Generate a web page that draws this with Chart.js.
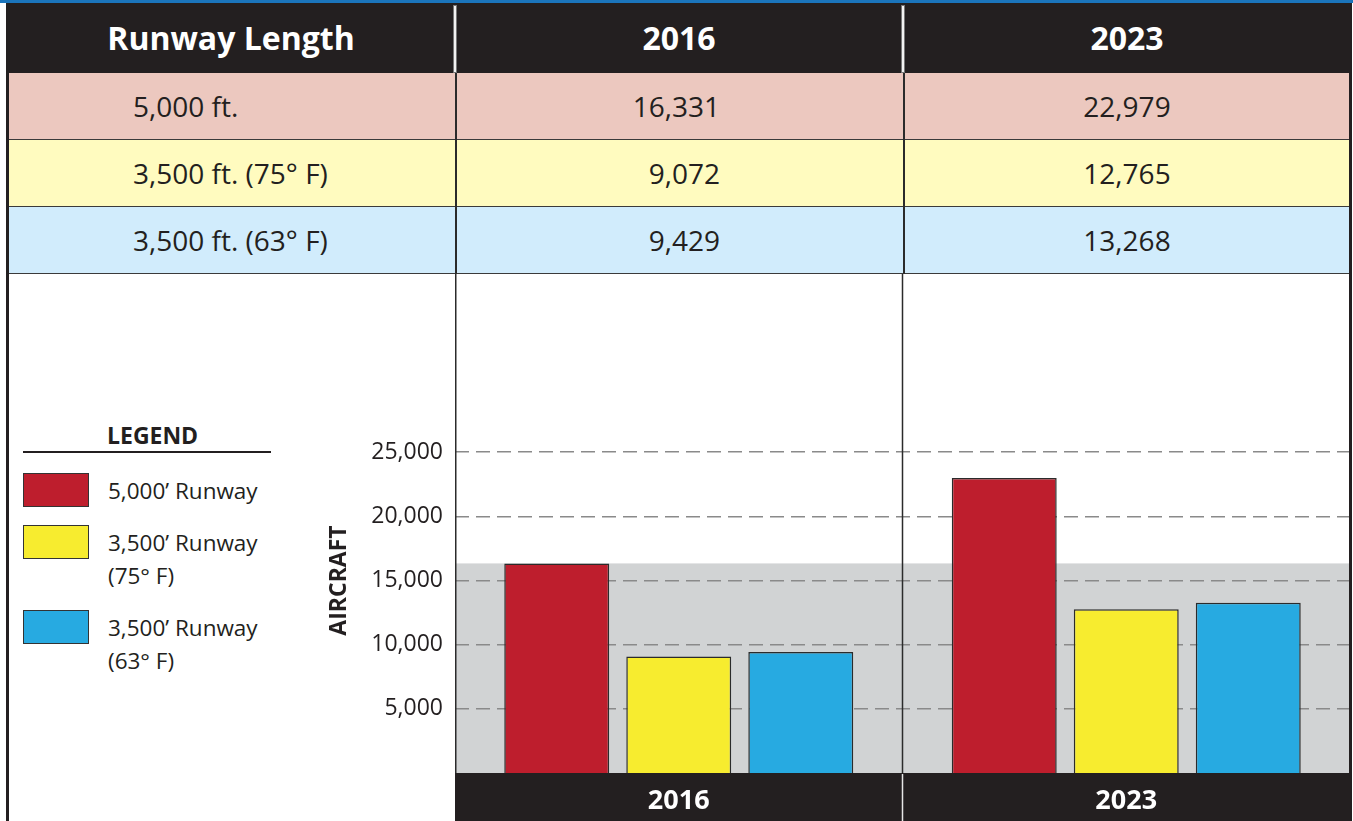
<!DOCTYPE html>
<html lang="en">
<head>
  <meta charset="UTF-8" />
  <title>Runway Length - Aircraft</title>
  <script src="https://cdn.jsdelivr.net/npm/chart.js"></script>
  <style>
    body {
      margin: 0;
      background: #ffffff;
      font-family: 'Open Sans', 'Noto Sans', Arial, sans-serif;
      color: #231f20;
    }
    .page {
      position: relative;
      width: 1353px;
      height: 821px;
      overflow: hidden;
    }
    .topline { position: absolute; left: 0; top: 0; width: 1353px; height: 3px; background: #1b75bc; }
    .header {
      position: absolute; left: 7px; top: 3px; width: 1345px; height: 70px;
      background: #231f20;
    }
    .hcell {
      position: absolute; top: 3px; height: 70px; line-height: 70px;
      color: #fff; font-weight: 700; font-size: 32px; text-align: center;
    }
    .hdiv {
      position: absolute; top: 6px; height: 66px; width: 2px;
      background: #f2f2f2; box-shadow: 0 0 0 1px #777;
    }
    .row { position: absolute; left: 7px; width: 1345px; height: 66px; border-bottom: 1.5px solid #3a3a3a; }
    .cell { position: absolute; height: 66px; line-height: 66px; font-size: 28px; color: #231f20; white-space: nowrap; }
    .vdiv { position: absolute; width: 1.5px; background: #2b2b2b; }
    .border { position: absolute; top: 3px; width: 3px; height: 818px; background: #231f20; z-index: 5; }
    #legend { position: absolute; left: 0; top: 0; }
    .legend-title {
      position: absolute; left: 107px; top: 420px;
      font-weight: 700; font-size: 23px; line-height: 30px; white-space: nowrap;
    }
    .legend-rule { position: absolute; left: 23px; top: 451px; width: 248px; height: 1.5px; background: #231f20; }
    .swatch { position: absolute; left: 23px; width: 64px; height: 32px; border: 1.5px solid #333; }
    .litem { position: absolute; left: 108px; font-size: 22.5px; line-height: 33px; white-space: nowrap; }
    .chart-box { position: absolute; left: 320px; top: 274px; width: 1030px; height: 547px; }
  </style>
</head>
<body>
<div class="page" id="page">
  <div class="topline"></div>
  <div class="header"></div>
  <div class="chart-box"><canvas id="chart"></canvas></div>
  <div id="legend"></div>
  <div class="border" style="left:6px"></div>
  <div class="border" style="left:1349px"></div>
</div>

<script>
  // chart data
  const categories = ['2016', '2023'];
  const runway5000 = [16331, 22979];
  const runway3500at75 = [9072, 12765];
  const runway3500at63 = [9429, 13268];

  const tableHeader = ['Runway Length', '2016', '2023'];
  const rowLabels = ['5,000 ft.', '3,500 ft. (75° F)', '3,500 ft. (63° F)'];
  const legendLabels = [['5,000\u2019 Runway'], ['3,500\u2019 Runway', '(75° F)'], ['3,500\u2019 Runway', '(63° F)']];
  const seriesColors = ['#be1e2d', '#f7ec2f', '#27aae1'];
  const rowColors = ['#ecc8bf', '#fffbbf', '#d1ecfc'];
  const yTicks = [5000, 10000, 15000, 20000, 25000];
  const yAxisTitle = 'AIRCRAFT';

  const series = [runway5000, runway3500at75, runway3500at63];
  const fmt = v => v.toLocaleString('en-US');

  // table part (plain html)
  const page = document.getElementById('page');
  const colCenters = [231, 679, 1127];
  tableHeader.forEach((t, i) => {
    const d = document.createElement('div');
    d.className = 'hcell';
    d.style.left = (colCenters[i] - 220) + 'px';
    d.style.width = '440px';
    d.textContent = t;
    page.appendChild(d);
  });
  [455, 903].forEach(x => {
    const d = document.createElement('div');
    d.className = 'hdiv';
    d.style.left = (x - 1) + 'px';
    page.appendChild(d);
  });
  rowLabels.forEach((lab, r) => {
    const row = document.createElement('div');
    row.className = 'row';
    row.style.top = (73 + r * 67) + 'px';
    row.style.background = rowColors[r];
    row.innerHTML =
      `<div class="cell" style="left:126px">${lab}</div>` +
      `<div class="cell" style="left:448px;width:265px;text-align:right">${fmt(series[r][0])}</div>` +
      `<div class="cell" style="left:896px;width:448px;text-align:center">${fmt(series[r][1])}</div>`;
    page.appendChild(row);
  });
  [455, 903].forEach(x => {
    const d = document.createElement('div');
    d.className = 'vdiv';
    d.style.left = x + 'px';
    d.style.top = '73px';
    d.style.height = '201px';
    page.appendChild(d);
  });

  // legend
  const legend = document.getElementById('legend');
  let html = '<div class="legend-title">LEGEND</div><div class="legend-rule"></div>';
  const swatchTops = [473, 525, 610];
  legendLabels.forEach((lines, i) => {
    html += `<div class="swatch" style="top:${swatchTops[i]}px;background:${seriesColors[i]}"></div>`;
    html += `<div class="litem" style="top:${swatchTops[i] + 1}px">${lines.join('<br>')}</div>`;
  });
  legend.innerHTML = html;

  // background band, bottom bar and dividers
  const framePlugin = {
    id: 'frame',
    beforeDraw(chart) {
      const { ctx, chartArea: a, scales } = chart;
      const bandTop = scales.y.getPixelForValue(runway5000[0]);
      ctx.save();
      ctx.fillStyle = '#d1d3d4';
      ctx.fillRect(a.left, bandTop, a.right - a.left, a.bottom - bandTop);
      ctx.fillStyle = '#231f20';
      ctx.fillRect(a.left, a.bottom, a.right - a.left, chart.height - a.bottom);
      ctx.restore();
    },
    afterDraw(chart) {
      const { ctx, chartArea: a, scales } = chart;
      const mid = (scales.x.getPixelForTick(0) + scales.x.getPixelForTick(1)) / 2;
      ctx.save();
      ctx.lineWidth = 1.5;
      ctx.strokeStyle = '#2b2b2b';
      ctx.beginPath();
      ctx.moveTo(a.left + 0.75, 0);
      ctx.lineTo(a.left + 0.75, a.bottom);
      ctx.moveTo(mid, 0);
      ctx.lineTo(mid, a.bottom);
      ctx.stroke();
      ctx.strokeStyle = '#e6e6e6';
      ctx.beginPath();
      ctx.moveTo(mid, a.bottom + 1);
      ctx.lineTo(mid, chart.height);
      ctx.stroke();
      ctx.restore();
    }
  };

  new Chart(document.getElementById('chart'), {
    type: 'bar',
    data: {
      labels: categories,
      datasets: legendLabels.map((lines, i) => ({
        label: lines.join(' '),
        data: series[i],
        backgroundColor: seriesColors[i],
        borderColor: '#2b2b2b',
        borderWidth: 1.5,
        borderSkipped: 'bottom',
        categoryPercentage: 0.818,
        barPercentage: 0.86
      }))
    },
    options: {
      responsive: true,
      maintainAspectRatio: false,
      animation: false,
      layout: { padding: { top: 114, left: 0, right: 0, bottom: 0 } },
      plugins: {
        legend: { display: false },
        tooltip: { enabled: false }
      },
      scales: {
        x: {
          grid: { display: false, drawTicks: false },
          border: { display: false },
          ticks: {
            color: '#ffffff',
            font: { family: "'Open Sans', sans-serif", size: 27, weight: 'bold' },
            padding: 12
          },
          afterFit: s => { s.height = 48; }
        },
        y: {
          min: 0,
          max: 30000,
          afterBuildTicks: s => { s.ticks = yTicks.map(v => ({ value: v })); },
          grid: {
            color: '#8a8a8a',
            lineWidth: 1.4,
            drawTicks: false
          },
          border: { display: false, dash: [14, 7] },
          ticks: {
            color: '#231f20',
            font: { family: "'Open Sans', sans-serif", size: 23 },
            padding: 12,
            callback: v => fmt(v)
          },
          title: {
            display: true,
            text: yAxisTitle,
            color: '#231f20',
            font: { family: "'Open Sans', sans-serif", size: 23, weight: 'bold' },
            padding: { top: 6, bottom: 4 }
          },
          afterFit: s => { s.width = 135; }
        }
      }
    },
    plugins: [framePlugin]
  });
</script>
</body>
</html>
